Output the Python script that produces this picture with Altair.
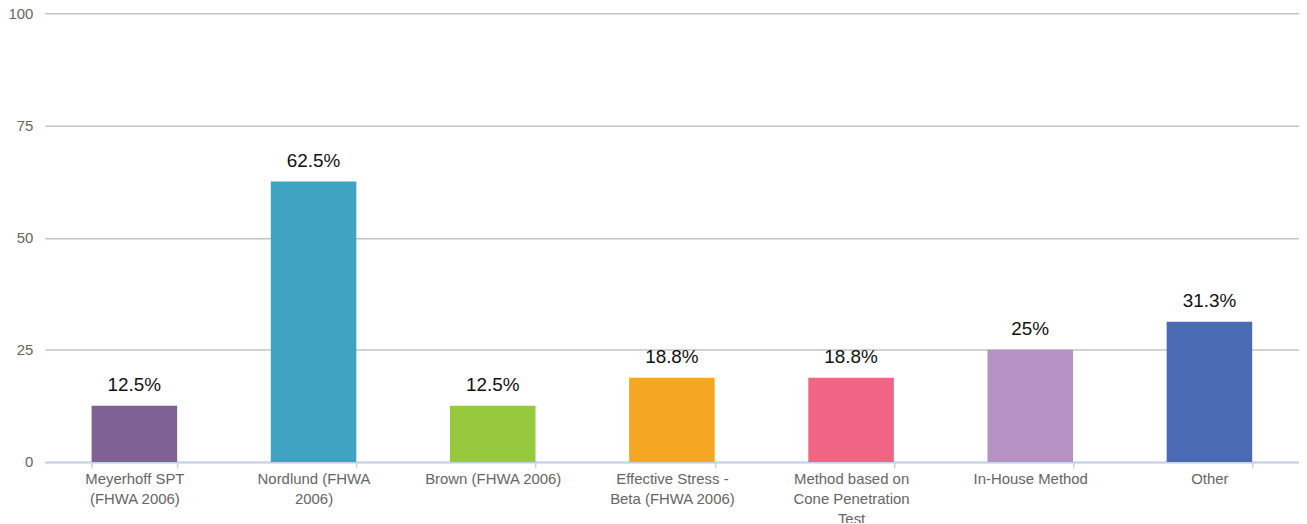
import altair as alt
import pandas as pd

categories = [
    "Meyerhoff SPT\n(FHWA 2006)",
    "Nordlund (FHWA\n2006)",
    "Brown (FHWA 2006)",
    "Effective Stress -\nBeta (FHWA 2006)",
    "Method based on\nCone Penetration\nTest",
    "In-House Method",
    "Other",
]
values = [12.5, 62.5, 12.5, 18.75, 18.75, 25, 31.25]
value_labels = ["12.5%", "62.5%", "12.5%", "18.8%", "18.8%", "25%", "31.3%"]
colors = ["#7f6195", "#3fa3c2", "#96c93d", "#f5a623", "#f06586", "#b591c4", "#4a6ab3"]

df = pd.DataFrame({"cat": categories, "val": values, "lab": value_labels})

FONT = "Liberation Sans"

x = alt.X(
    "cat:N",
    sort=categories,
    scale=alt.Scale(paddingInner=0.5226, paddingOuter=0.2613),
    axis=alt.Axis(
        title=None,
        labelAngle=0,
        labelExpr="split(datum.label, '\\n')",
        labelFont=FONT,
        labelFontSize=15,
        labelColor="#666666",
        labelLineHeight=20,
        labelPadding=4,
        labelLimit=300,
        tickBand="extent",
        tickColor="#c5d3e6",
        tickSize=6,
        tickWidth=1.5,
        domainColor="#c5d3e6",
        domainWidth=2,
        grid=False,
    ),
)

y = alt.Y(
    "val:Q",
    scale=alt.Scale(domain=[0, 100]),
    axis=alt.Axis(
        title=None,
        values=[0, 25, 50, 75, 100],
        labelFont=FONT,
        labelFontSize=15,
        labelColor="#666666",
        labelPadding=12,
        domain=False,
        ticks=False,
        grid=True,
        gridColor="#c4c4c4",
        gridWidth=1.5,
    ),
)

bars = alt.Chart(df).mark_bar().encode(
    x=x,
    y=y,
    color=alt.Color("cat:N", sort=categories,
                    scale=alt.Scale(domain=categories, range=colors), legend=None),
)

text = alt.Chart(df).mark_text(
    baseline="alphabetic", dy=-15, font=FONT, fontSize=19, color="#111111"
).encode(
    x=alt.X("cat:N", sort=categories),
    y="val:Q",
    text="lab:N",
)

chart = (bars + text).properties(
    width=1261,
    height=451,
    autosize=alt.AutoSizeParams(type="none"),
    padding={"left": 37, "top": 4, "right": 0, "bottom": 60},
).configure_view(stroke=None)

chart.save("out.html", embed_options={"renderer": "svg", "actions": False})
